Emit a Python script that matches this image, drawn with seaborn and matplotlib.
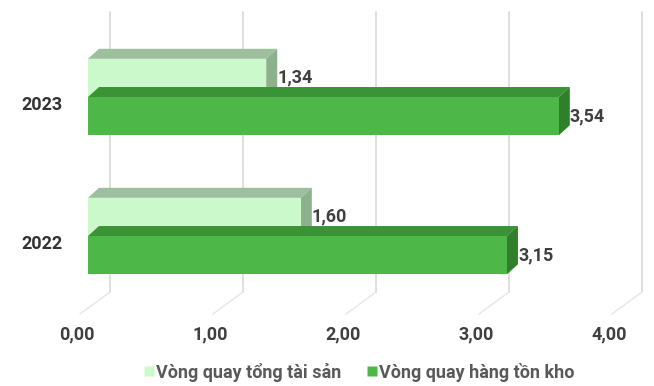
#!/usr/bin/env python3
"""Vòng quay tài sản / hàng tồn kho 2022-2023 - horizontal pseudo-3D bars"""

import numpy as np
import pandas as pd
import matplotlib
matplotlib.use('Agg')
import matplotlib.pyplot as plt
from matplotlib.patches import Polygon
from matplotlib.lines import Line2D
from matplotlib.transforms import ScaledTranslation
import seaborn as sns

# data
years = ['2023', '2022']
series_names = ['Vòng quay tổng tài sản', 'Vòng quay hàng tồn kho']
total_asset_turnover = [1.34, 1.60]
inventory_turnover = [3.54, 3.15]
x_ticks = [0, 1, 2, 3, 4]

# colours: front, top, side
front_colors = ['#cbf9cb', '#4db848']
top_colors = ['#9dbf9d', '#3a9334']
side_colors = ['#8db08d', '#2f7f2b']
text_color = '#3f3f3f'

df = pd.DataFrame({
    'year': years * 2,
    'series': [series_names[0]] * 2 + [series_names[1]] * 2,
    'value': total_asset_turnover + inventory_turnover,
})

sns.set_theme(style='white')
plt.rcParams['font.family'] = ['Roboto', 'DejaVu Sans']

fig = plt.figure(figsize=(6.54, 3.86), dpi=100)
ax = fig.add_axes([88 / 654, 76 / 386, 532 / 654, 300 / 386])

sns.barplot(data=df, y='year', x='value', hue='series', order=years,
            hue_order=series_names, palette=front_colors, orient='h',
            width=0.55, legend=False, saturation=1, ax=ax, linewidth=0)

ax.set_xlim(0, 4)
ax.set_ylim(1.532, -0.626)
ax.set_xticks(x_ticks)
ax.set_xticklabels([f'{t:.2f}'.replace('.', ',') for t in x_ticks])
ax.set_xlabel('')
ax.set_ylabel('')
for s in ax.spines.values():
    s.set_visible(False)
ax.tick_params(axis='x', length=0, pad=11, labelsize=13, labelcolor=text_color)
ax.tick_params(axis='y', length=0, pad=18.5, labelsize=13, labelcolor='#333333')
for lbl in ax.get_xticklabels() + ax.get_yticklabels():
    lbl.set_fontweight('bold')
# floor front edge sits a little left of the bars
for lbl in ax.get_xticklabels():
    lbl.set_transform(lbl.get_transform() + ScaledTranslation(-11 / 100, 0, fig.dpi_scale_trans))
for lbl in ax.get_yticklabels():
    lbl.set_transform(lbl.get_transform() + ScaledTranslation(0, -6 / 100, fig.dpi_scale_trans))

inv = ax.transData.inverted()
to_disp = ax.transData.transform

# back wall gridlines + floor diagonals (offset in pixels)
gdx, gdy = 22, 18
floor_y = to_disp((0, ax.get_ylim()[0]))[1]
top_y = to_disp((0, ax.get_ylim()[1]))[1] - 2
for t in x_ticks:
    xd = to_disp((t, 0))[0]
    pts = inv.transform([(xd + gdx, floor_y + gdy), (xd + gdx, top_y)])
    ax.add_line(Line2D(pts[:, 0], pts[:, 1], color='#d9d9d9', lw=1.2, zorder=0, clip_on=False))
    pts = inv.transform([(xd - 8, floor_y - 4), (xd + gdx, floor_y + gdy)])
    ax.add_line(Line2D(pts[:, 0], pts[:, 1], color='#e6e6e6', lw=1, zorder=0, clip_on=False))

# depth faces for each bar
bdx, bdy = 11, 10
for i, container in enumerate(ax.containers):
    for bar in container:
        x0, y0 = bar.get_x(), bar.get_y()
        w, h = bar.get_width(), bar.get_height()
        (lx, ty), (rx, by) = to_disp([(x0, y0), (x0 + w, y0 + h)])
        # display y grows upwards; y axis inverted so y0 is top
        top = inv.transform([(lx, ty), (rx, ty), (rx + bdx, ty + bdy), (lx + bdx, ty + bdy)])
        side = inv.transform([(rx, ty), (rx + bdx, ty + bdy), (rx + bdx, by + bdy), (rx, by)])
        z = 2 + 2 * i
        ax.add_patch(Polygon(top, closed=True, facecolor=top_colors[i], edgecolor='none', zorder=z))
        ax.add_patch(Polygon(side, closed=True, facecolor=side_colors[i], edgecolor='none', zorder=z))
        bar.set_zorder(z + 0.5)

    labels = [f'{v:.2f}'.replace('.', ',') for v in container.datavalues]
    ax.bar_label(container, labels=labels, padding=8, fontsize=13, fontweight='bold',
                 color=text_color, zorder=10)

handles = [Line2D([], [], marker='s', linestyle='none', markersize=7,
                  markerfacecolor=c, markeredgecolor='none') for c in front_colors]
leg = fig.legend(handles, series_names, loc='center', bbox_to_anchor=(0.549, 0.036),
                 ncol=2, frameon=False, handlelength=0.6, handletextpad=0.1,
                 columnspacing=1.4, prop={'size': 13, 'weight': 'bold'})
for txt in leg.get_texts():
    txt.set_color('#595959')

fig.savefig('out.png', dpi=100)
